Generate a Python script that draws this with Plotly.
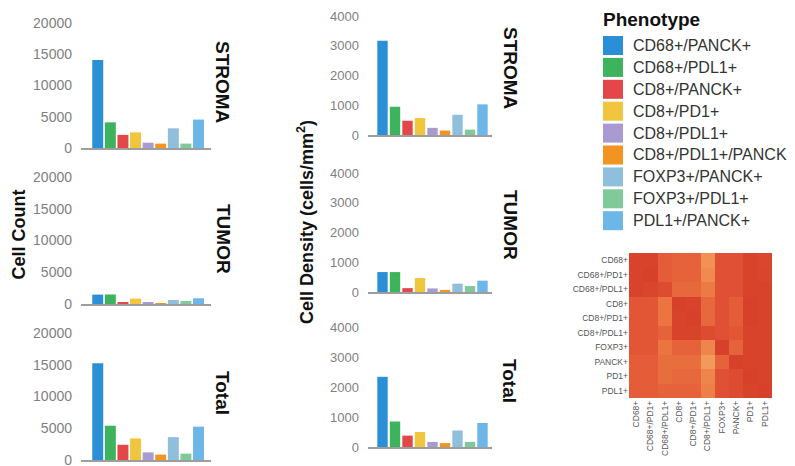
import plotly.graph_objects as go

# ---------------- data ----------------
phenotypes = ["CD68+/PANCK+", "CD68+/PDL1+", "CD8+/PANCK+", "CD8+/PD1+", "CD8+/PDL1+",
              "CD8+/PDL1+/PANCK", "FOXP3+/PANCK+", "FOXP3+/PDL1+", "PDL1+/PANCK+"]
pheno_colors = ["#2b8fd8", "#3db35e", "#e2474a", "#f0c63e", "#a99bd2",
                "#f39420", "#8fbfda", "#7fca98", "#6cb6e8"]

regions = ["STROMA", "TUMOR", "Total"]
count_stroma = [14100, 4100, 2100, 2500, 850, 700, 3150, 700, 4550]
count_tumor = [1480, 1500, 300, 850, 260, 30, 630, 470, 900]
count_total = [15250, 5400, 2400, 3400, 1200, 850, 3600, 1000, 5250]
density_stroma = [3170, 950, 480, 570, 240, 150, 680, 180, 1030]
density_tumor = [670, 670, 130, 470, 120, 70, 280, 200, 380]
density_total = [2340, 850, 380, 500, 170, 130, 550, 170, 800]

count_ticks = [0, 5000, 10000, 15000, 20000]
density_ticks = [0, 1000, 2000, 3000, 4000]

markers = ["CD68+", "CD68+/PD1+", "CD68+/PDL1+", "CD8+", "CD8+/PD1+",
           "CD8+/PDL1+", "FOXP3+", "PANCK+", "PD1+", "PDL1+"]
corr = [
    [0.90, 0.90, 0.65, 0.60, 0.60, 0.20, 0.75, 0.75, 0.90, 0.86],
    [0.90, 0.92, 0.65, 0.60, 0.60, 0.25, 0.75, 0.75, 0.90, 0.88],
    [0.90, 0.88, 0.80, 0.55, 0.55, 0.40, 0.75, 0.75, 0.90, 0.90],
    [0.70, 0.70, 0.45, 0.92, 0.90, 0.55, 0.75, 0.65, 0.92, 0.90],
    [0.70, 0.70, 0.45, 0.90, 0.92, 0.55, 0.75, 0.65, 0.92, 0.90],
    [0.70, 0.70, 0.60, 0.90, 0.90, 0.80, 0.75, 0.70, 0.90, 0.90],
    [0.70, 0.70, 0.45, 0.60, 0.60, 0.30, 0.92, 0.60, 0.90, 0.90],
    [0.65, 0.65, 0.50, 0.50, 0.50, 0.12, 0.60, 0.93, 0.90, 0.90],
    [0.65, 0.65, 0.50, 0.55, 0.55, 0.30, 0.75, 0.80, 0.92, 0.90],
    [0.65, 0.65, 0.60, 0.60, 0.60, 0.35, 0.75, 0.80, 0.90, 0.93],
]

# ---------------- layout helpers ----------------
W, H = 795, 466
FONT = "Liberation Sans, Arial, sans-serif"


def fx(px):
    return px / W


def fy(px):
    return 1 - px / H


fig = go.Figure()
layout = dict(
    width=W, height=H, margin=dict(l=0, r=0, t=0, b=0, autoexpand=False),
    paper_bgcolor="white", plot_bgcolor="white",
    showlegend=False, font=dict(family=FONT),
)

# panel geometry: (values, ymax, ticks, x_px, y_px(top value, zero), xrange, barwidth, tickfontsize)
left_x = (81, 211)
mid_x = (368, 492)
panels = [
    (count_stroma, 20000, count_ticks, left_x, (23, 148), [-1.33, 8.99], 0.87, 14),
    (count_tumor, 20000, count_ticks, left_x, (177, 304), [-1.33, 8.99], 0.87, 14),
    (count_total, 20000, count_ticks, left_x, (333, 460), [-1.33, 8.99], 0.87, 14),
    (density_stroma, 4000, density_ticks, mid_x, (16, 135), [-1.16, 8.76], 0.83, 13),
    (density_tumor, 4000, density_ticks, mid_x, (173, 292), [-1.16, 8.76], 0.83, 13),
    (density_total, 4000, density_ticks, mid_x, (327, 447), [-1.16, 8.76], 0.83, 13),
]

for i, (vals, ymax, ticks, xpx, ypx, xr, bw, tfs) in enumerate(panels, start=1):
    suffix = "" if i == 1 else str(i)
    fig.add_trace(go.Bar(
        x=list(range(len(phenotypes))), y=vals, width=bw,
        marker=dict(color=pheno_colors, line=dict(width=0)),
        xaxis="x" + suffix, yaxis="y" + suffix,
        hovertext=phenotypes,
    ))
    layout["xaxis" + suffix] = dict(
        domain=[fx(xpx[0]), fx(xpx[1])], anchor="y" + suffix, range=xr,
        showline=True, linecolor="#9d9d9d", linewidth=1.5, showticklabels=False,
        ticks="", showgrid=False, zeroline=False, automargin=False,
    )
    layout["yaxis" + suffix] = dict(
        domain=[fy(ypx[1]), fy(ypx[0])], anchor="x" + suffix, range=[0, ymax],
        tickvals=ticks, ticktext=[str(t) for t in ticks],
        tickfont=dict(size=tfs, color="#808080", family=FONT),
        showline=False, showgrid=False, zeroline=False, ticks="",
        ticklabelstandoff=8, automargin=False, ticklabeloverflow="allow",
    )

# heatmap
fig.add_trace(go.Heatmap(
    z=corr, x=markers, y=markers, xaxis="x7", yaxis="y7", showscale=False,
    zmin=0, zmax=1,
    colorscale=[[0, "#f5a864"], [0.45, "#eb7440"], [0.75, "#e05034"], [1, "#d33a27"]],
))
layout["xaxis7"] = dict(
    domain=[fx(629), fx(772)], anchor="y7", tickangle=-90,
    tickfont=dict(size=8.5, color="#555555", family=FONT), ticks="",
    showgrid=False, zeroline=False, showline=False, automargin=False,
    ticklabeloverflow="allow",
)
layout["yaxis7"] = dict(
    domain=[fy(398), fy(253)], anchor="x7", autorange="reversed",
    tickfont=dict(size=8.5, color="#555555", family=FONT), ticks="",
    showgrid=False, zeroline=False, showline=False, automargin=False,
    ticklabeloverflow="allow",
)


def label(x, y, text, size, angle=0, xanchor="center", color="#111111"):
    return dict(x=fx(x), y=fy(y), xref="paper", yref="paper", text=text,
                textangle=angle, showarrow=False, xanchor=xanchor, yanchor="middle",
                font=dict(size=size, color=color, family=FONT))


annotations = []
# facet strip labels
facet_pos_left = [(223, 82), (224, 239), (223, 393)]
facet_pos_mid = [(511, 68), (511, 225), (510, 381)]
for name, (ax, ay) in zip(regions, facet_pos_left):
    annotations.append(label(ax, ay, "<b>%s</b>" % name, 19, angle=90))
for name, (ax, ay) in zip(regions, facet_pos_mid):
    annotations.append(label(ax, ay, "<b>%s</b>" % name, 19, angle=90))

# axis titles
annotations.append(label(18.5, 235, "<b>Cell Count</b>", 18, angle=-90))
annotations.append(label(305, 222, "<b>Cell Density (cells/mm<sup>2</sup>)</b>", 18, angle=-90))

# legend
annotations.append(label(601, 19, "<b>Phenotype</b>", 19, xanchor="left"))
shapes = []
for k, (name, col) in enumerate(zip(phenotypes, pheno_colors)):
    cy = 45.5 + k * 21.9
    shapes.append(dict(type="rect", xref="paper", yref="paper",
                       x0=fx(603), x1=fx(623), y0=fy(cy + 9.5), y1=fy(cy - 9.5),
                       fillcolor=col, line=dict(width=0)))
    annotations.append(label(631, cy, name, 16, xanchor="left", color="#333333"))

layout["annotations"] = annotations
layout["shapes"] = shapes
fig.update_layout(**layout)
fig.write_html("out.html", config={"displayModeBar": False},
               post_script="document.body.style.margin='0';document.body.style.overflow='hidden';")
